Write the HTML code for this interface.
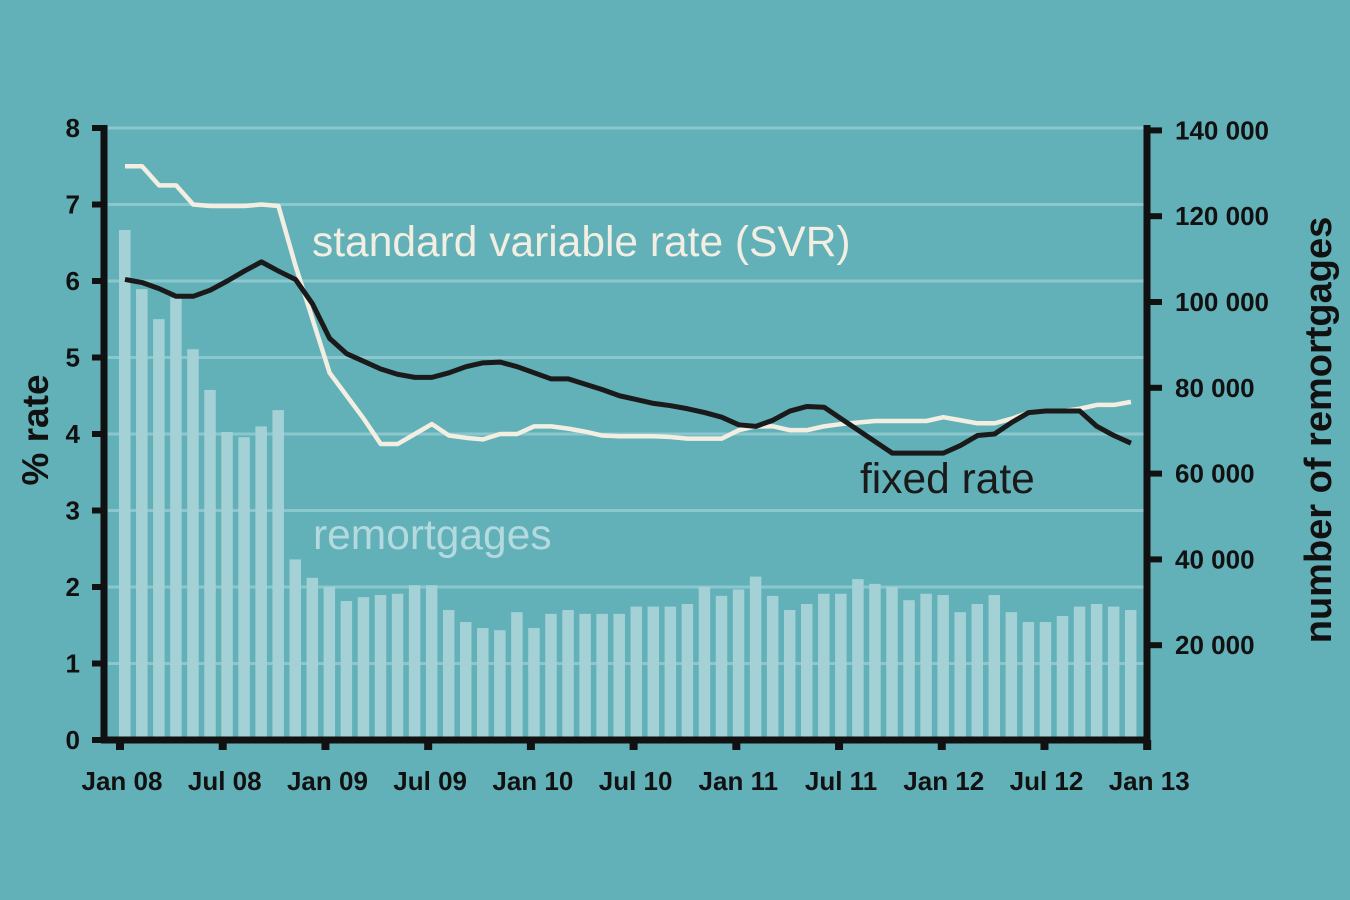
<!DOCTYPE html>
<html><head><meta charset="utf-8"><style>
body{margin:0;background:#62b0b8;}
svg{display:block;font-family:"Liberation Sans",sans-serif;}
</style></head><body>
<svg id="chart" width="1350" height="900">
<rect width="1350" height="900" fill="#62b0b8"/>
<g id="grid"></g><g id="bars"></g><g id="lines"></g><g id="axes"></g>
<text x="312" y="256" font-size="42.5" fill="#f2efe2">standard variable rate (SVR)</text>
<text x="313" y="549" font-size="42.5" fill="#b3dade">remortgages</text>
<text x="860" y="493" font-size="42.5" fill="#1a1a1a">fixed rate</text>
<text transform="translate(48,430) rotate(-90)" text-anchor="middle" font-size="37" font-weight="bold" fill="#111">% rate</text>
<text transform="translate(1331,430) rotate(-90)" text-anchor="middle" font-size="38" font-weight="bold" fill="#111">number of remortgages</text>
</svg>
<script>
const remortgages=[116800,103000,96000,101000,89000,79500,69700,68500,71000,74800,40000,35700,33600,30300,31200,31700,32000,34000,34000,28200,25400,24000,23500,27700,24000,27300,28200,27300,27300,27300,29000,29000,29000,29600,33600,31500,33000,36000,31500,28200,29600,32000,32000,35400,34300,33600,30500,32000,31700,27700,29600,31700,27700,25400,25400,26800,29000,29600,29000,28200];
const svr=[7.5,7.5,7.25,7.25,7.0,6.98,6.98,6.98,7.0,6.98,6.2,5.5,4.8,4.5,4.2,3.87,3.87,4.0,4.13,3.98,3.95,3.93,4.0,4.0,4.1,4.1,4.07,4.03,3.98,3.97,3.97,3.97,3.96,3.94,3.94,3.94,4.05,4.1,4.1,4.05,4.05,4.1,4.13,4.15,4.17,4.17,4.17,4.17,4.22,4.18,4.14,4.14,4.2,4.28,4.3,4.3,4.33,4.38,4.38,4.42];
const fixedRate=[6.02,5.98,5.9,5.8,5.8,5.88,6.0,6.13,6.25,6.13,6.02,5.7,5.25,5.05,4.95,4.85,4.78,4.74,4.74,4.8,4.88,4.93,4.94,4.88,4.8,4.72,4.72,4.65,4.58,4.5,4.45,4.4,4.37,4.33,4.28,4.22,4.12,4.1,4.18,4.3,4.36,4.35,4.2,4.05,3.9,3.75,3.75,3.75,3.75,3.85,3.98,4.0,4.15,4.28,4.3,4.3,4.3,4.1,3.98,3.88];
const leftTicks=[0,1,2,3,4,5,6,7,8];
const rightTicks=[20000,40000,60000,80000,100000,120000,140000];
const rightTickLabels=["20 000","40 000","60 000","80 000","100 000","120 000","140 000"];
const xTickMonths=[0,6,12,18,24,30,36,42,48,54,60];
const xTickLabels=["Jan 08","Jul 08","Jan 09","Jul 09","Jan 10","Jul 10","Jan 11","Jul 11","Jan 12","Jul 12","Jan 13"];

const NS="http://www.w3.org/2000/svg";
const yL=v=>740-v*76.5;
const yR=v=>731-v/20000*85.8;
const xM=i=>125+i*17.05;
const xT=m=>120+m*17.12;
function mk(tag,attrs,parent){const e=document.createElementNS(NS,tag);for(const k in attrs)e.setAttribute(k,attrs[k]);parent.appendChild(e);return e;}
const grid=document.getElementById('grid'),bars=document.getElementById('bars'),lines=document.getElementById('lines'),axes=document.getElementById('axes');

leftTicks.forEach(v=>{
  if(v>0){const g=mk('line',{x1:108,x2:1144,y1:yL(v),y2:yL(v),stroke:'#8cc7cd','stroke-width':3},grid);
  
  }
  const t=mk('line',{x1:92,x2:106,y1:yL(v),y2:yL(v),stroke:'#111','stroke-width':6},axes);
  
  
  const l=mk('text',{x:80,y:yL(v)+9,'text-anchor':'end','font-size':26,'font-weight':'bold',fill:'#111'},axes);l.textContent=v;
  
  
});
rightTicks.forEach((v,i)=>{
  const t=mk('line',{x1:1146,x2:1162,y1:yR(v),y2:yR(v),stroke:'#111','stroke-width':6},axes);
  
  
  const l=mk('text',{x:1175,y:yR(v)+9,'font-size':26,'font-weight':'bold',fill:'#111'},axes);l.textContent=rightTickLabels[i];
  
  
});
remortgages.forEach((v,i)=>{
  const b=mk('rect',{x:xM(i)-6,y:yR(v),width:11.5,height:738-yR(v),fill:'#a3d1d6'},bars);
  
  
});
function line(data,color,name,w){
  const p=mk('polyline',{points:data.map((v,i)=>xM(i)+','+yL(v)).join(' '),fill:'none',stroke:color,'stroke-width':w,'stroke-linejoin':'round'},lines);
  
  
}
line(svr,'#f2efe2','svr-line',4.5);
line(fixedRate,'#1a1a1a','fixed-rate-line',5);
const la=mk('line',{x1:104,x2:104,y1:125,y2:743,stroke:'#111','stroke-width':7},axes);


const ra=mk('line',{x1:1147,x2:1147,y1:125,y2:743,stroke:'#111','stroke-width':7},axes);


const xa=mk('line',{x1:101,x2:1150,y1:740,y2:740,stroke:'#111','stroke-width':7},axes);


xTickMonths.forEach((m,i)=>{
  const t=mk('line',{x1:xT(m),x2:xT(m),y1:740,y2:750,stroke:'#111','stroke-width':8},axes);
  
  
  const l=mk('text',{x:xT(m)+2,y:790,'text-anchor':'middle','font-size':26,'font-weight':'bold',fill:'#111'},axes);l.textContent=xTickLabels[i];
  
  
});
</script>
</body></html>
